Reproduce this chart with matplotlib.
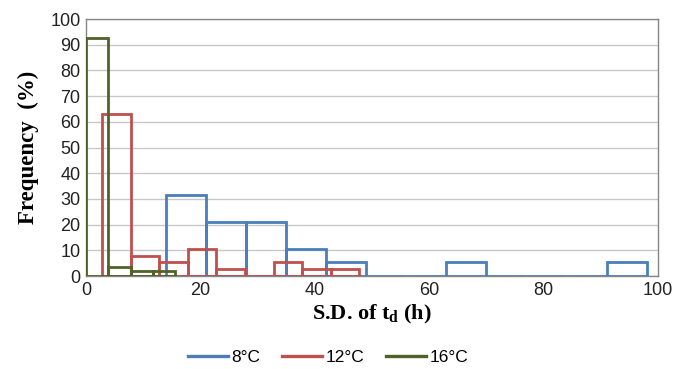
import matplotlib
matplotlib.use("Agg")
import matplotlib.pyplot as plt
import numpy as np

matplotlib.rcParams["mathtext.fontset"] = "custom"
matplotlib.rcParams["mathtext.rm"] = "Liberation Serif"
matplotlib.rcParams["mathtext.bf"] = "Liberation Serif:bold"
matplotlib.rcParams["mathtext.it"] = "Liberation Serif:italic"

# Bin edges and frequencies (%) per temperature
edges_8 = [14, 21, 28, 35, 42, 49, 56, 63, 70, 77, 84, 91, 98]
freq_8 = [31.6, 21.1, 21.1, 10.5, 5.3, 0, 0, 5.3, 0, 0, 0, 5.3]

edges_12 = [2.8, 7.8, 12.8, 17.8, 22.8, 27.8, 32.8, 37.8, 42.8, 47.8]
freq_12 = [63.2, 7.9, 5.3, 10.5, 2.6, 0, 5.3, 2.6, 2.6]

edges_16 = [0, 3.9, 7.8, 11.7, 15.6]
freq_16 = [92.6, 3.7, 1.85, 1.85]

labels = ["8°C", "12°C", "16°C"]
colors = ["#4a7ebb", "#c0504d", "#4f6228"]

xticks = [0, 20, 40, 60, 80, 100]
yticks = list(range(0, 101, 10))

fig = plt.figure(figsize=(6.86, 3.69), dpi=100)
ax = fig.add_axes([0.1254, 0.252, 0.8338, 0.6965])

serif = ["Liberation Serif", "DejaVu Serif"]
sans = ["Liberation Sans", "DejaVu Sans"]

handles = []
for e, f, c, lab in zip([edges_8, edges_12, edges_16], [freq_8, freq_12, freq_16], colors, labels):
    e = np.asarray(e, dtype=float)
    ax.bar(e[:-1], f, width=np.diff(e), align="edge", fill=False,
           edgecolor=c, linewidth=2.0, zorder=3)
    h, = ax.plot([], [], color=c, linewidth=2.4, label=lab)
    handles.append(h)

ax.set_xlim(0, 100)
ax.set_ylim(0, 100)
ax.set_xticks(xticks)
ax.set_yticks(yticks)
ax.grid(axis="y", color="#c8c8c8", linewidth=1.0, zorder=0)
ax.set_axisbelow(True)
for s in ax.spines.values():
    s.set_color("#868686")
    s.set_linewidth(1.0)
ax.tick_params(length=0, labelsize=13, pad=4)
for t in ax.get_xticklabels() + ax.get_yticklabels():
    t.set_family(sans)
    t.set_color("#222222")

ax.set_xlabel(r"S.D. of t$_\mathbf{d}$ (h)", fontsize=16, fontweight="bold", family=serif, labelpad=3)
ax.set_ylabel("Frequency  (%)", fontsize=16.5, fontweight="bold", family=serif, labelpad=8)

leg = fig.legend(handles=handles, loc="center", bbox_to_anchor=(0.478, 0.032), ncol=3,
                 frameon=False, prop={"family": sans, "size": 12.5}, handlelength=2.3,
                 columnspacing=1.25, handletextpad=0.2, borderpad=0.1)

fig.savefig("out.png", dpi=100)
